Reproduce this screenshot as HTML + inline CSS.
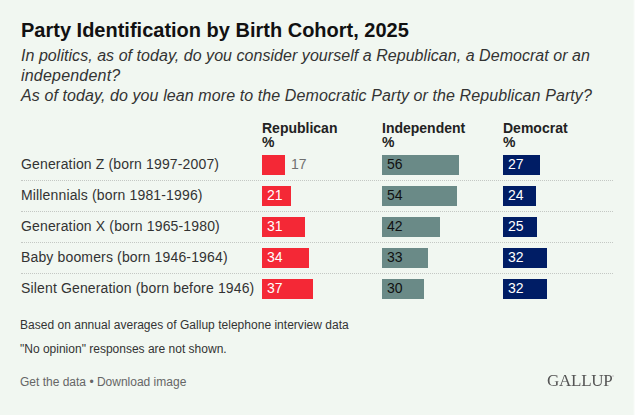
<!DOCTYPE html><html><head><meta charset="utf-8"><style>
html,body{margin:0;padding:0;}
body{width:635px;height:415px;background:#f1f7f1;position:relative;overflow:hidden;font-family:'Liberation Sans', sans-serif;}
.t{position:absolute;white-space:pre;}
.bar{position:absolute;height:20px;}
.dot{position:absolute;left:21px;width:592px;height:0;border-top:1px dotted #c4c8c4;}
</style></head><body>
<div class="t" style="left:21px;top:20px;font-size:20px;line-height:20px;font-family:'Liberation Sans', sans-serif;font-weight:bold;color:#111;transform:scaleY(0.97);transform-origin:0 17px;">Party Identification by Birth Cohort, 2025</div>
<div class="t" style="left:21px;top:47.5px;font-size:16px;line-height:16px;font-family:'Liberation Sans', sans-serif;font-style:italic;color:#333;letter-spacing:0.045px;">In politics, as of today, do you consider yourself a Republican, a Democrat or an</div>
<div class="t" style="left:21px;top:67.5px;font-size:16px;line-height:16px;font-family:'Liberation Sans', sans-serif;font-style:italic;color:#333;letter-spacing:0.2px;">independent?</div>
<div class="t" style="left:21px;top:87.5px;font-size:16px;line-height:16px;font-family:'Liberation Sans', sans-serif;font-style:italic;color:#333;letter-spacing:0.095px;">As of today, do you lean more to the Democratic Party or the Republican Party?</div>
<div class="t" style="left:262px;top:120.5px;font-size:14px;line-height:14px;font-family:'Liberation Sans', sans-serif;font-weight:bold;color:#222;">Republican</div>
<div class="t" style="left:262px;top:134.5px;font-size:14px;line-height:14px;font-family:'Liberation Sans', sans-serif;font-weight:bold;color:#222;">%</div>
<div class="t" style="left:382px;top:120.5px;font-size:14px;line-height:14px;font-family:'Liberation Sans', sans-serif;font-weight:bold;color:#222;">Independent</div>
<div class="t" style="left:382px;top:134.5px;font-size:14px;line-height:14px;font-family:'Liberation Sans', sans-serif;font-weight:bold;color:#222;">%</div>
<div class="t" style="left:503px;top:120.5px;font-size:14px;line-height:14px;font-family:'Liberation Sans', sans-serif;font-weight:bold;color:#222;">Democrat</div>
<div class="t" style="left:503px;top:134.5px;font-size:14px;line-height:14px;font-family:'Liberation Sans', sans-serif;font-weight:bold;color:#222;">%</div>
<div class="t" style="left:21px;top:157px;font-size:14px;line-height:14px;font-family:'Liberation Sans', sans-serif;color:#333;letter-spacing:0.15px;">Generation Z (born 1997-2007)</div>
<div class='bar' style='left:262px;top:155px;width:23px;background:#f42836;'></div>
<div class="t" style="left:291px;top:157px;font-size:14px;line-height:14px;font-family:'Liberation Sans', sans-serif;color:#707070;">17</div>
<div class='bar' style='left:382px;top:155px;width:77px;background:#6a8a87;'></div>
<div class="t" style="left:387px;top:157px;font-size:14px;line-height:14px;font-family:'Liberation Sans', sans-serif;color:#111;">56</div>
<div class='bar' style='left:503px;top:155px;width:37px;background:#001d65;'></div>
<div class="t" style="left:508px;top:157px;font-size:14px;line-height:14px;font-family:'Liberation Sans', sans-serif;color:#fff;">27</div>
<div class='dot' style='top:180px'></div>
<div class="t" style="left:21px;top:188px;font-size:14px;line-height:14px;font-family:'Liberation Sans', sans-serif;color:#333;letter-spacing:0.15px;">Millennials (born 1981-1996)</div>
<div class='bar' style='left:262px;top:186px;width:29px;background:#f42836;'></div>
<div class="t" style="left:267px;top:188px;font-size:14px;line-height:14px;font-family:'Liberation Sans', sans-serif;color:#fff;">21</div>
<div class='bar' style='left:382px;top:186px;width:75px;background:#6a8a87;'></div>
<div class="t" style="left:387px;top:188px;font-size:14px;line-height:14px;font-family:'Liberation Sans', sans-serif;color:#111;">54</div>
<div class='bar' style='left:503px;top:186px;width:33px;background:#001d65;'></div>
<div class="t" style="left:508px;top:188px;font-size:14px;line-height:14px;font-family:'Liberation Sans', sans-serif;color:#fff;">24</div>
<div class='dot' style='top:211px'></div>
<div class="t" style="left:21px;top:219px;font-size:14px;line-height:14px;font-family:'Liberation Sans', sans-serif;color:#333;letter-spacing:0.15px;">Generation X (born 1965-1980)</div>
<div class='bar' style='left:262px;top:217px;width:43px;background:#f42836;'></div>
<div class="t" style="left:267px;top:219px;font-size:14px;line-height:14px;font-family:'Liberation Sans', sans-serif;color:#fff;">31</div>
<div class='bar' style='left:382px;top:217px;width:58px;background:#6a8a87;'></div>
<div class="t" style="left:387px;top:219px;font-size:14px;line-height:14px;font-family:'Liberation Sans', sans-serif;color:#111;">42</div>
<div class='bar' style='left:503px;top:217px;width:34px;background:#001d65;'></div>
<div class="t" style="left:508px;top:219px;font-size:14px;line-height:14px;font-family:'Liberation Sans', sans-serif;color:#fff;">25</div>
<div class='dot' style='top:242px'></div>
<div class="t" style="left:21px;top:250px;font-size:14px;line-height:14px;font-family:'Liberation Sans', sans-serif;color:#333;letter-spacing:0.15px;">Baby boomers (born 1946-1964)</div>
<div class='bar' style='left:262px;top:248px;width:47px;background:#f42836;'></div>
<div class="t" style="left:267px;top:250px;font-size:14px;line-height:14px;font-family:'Liberation Sans', sans-serif;color:#fff;">34</div>
<div class='bar' style='left:382px;top:248px;width:46px;background:#6a8a87;'></div>
<div class="t" style="left:387px;top:250px;font-size:14px;line-height:14px;font-family:'Liberation Sans', sans-serif;color:#111;">33</div>
<div class='bar' style='left:503px;top:248px;width:44px;background:#001d65;'></div>
<div class="t" style="left:508px;top:250px;font-size:14px;line-height:14px;font-family:'Liberation Sans', sans-serif;color:#fff;">32</div>
<div class='dot' style='top:273px'></div>
<div class="t" style="left:21px;top:281px;font-size:14px;line-height:14px;font-family:'Liberation Sans', sans-serif;color:#333;letter-spacing:0.15px;">Silent Generation (born before 1946)</div>
<div class='bar' style='left:262px;top:279px;width:51px;background:#f42836;'></div>
<div class="t" style="left:267px;top:281px;font-size:14px;line-height:14px;font-family:'Liberation Sans', sans-serif;color:#fff;">37</div>
<div class='bar' style='left:382px;top:279px;width:42px;background:#6a8a87;'></div>
<div class="t" style="left:387px;top:281px;font-size:14px;line-height:14px;font-family:'Liberation Sans', sans-serif;color:#111;">30</div>
<div class='bar' style='left:503px;top:279px;width:44px;background:#001d65;'></div>
<div class="t" style="left:508px;top:281px;font-size:14px;line-height:14px;font-family:'Liberation Sans', sans-serif;color:#fff;">32</div>
<div class="t" style="left:20px;top:319px;font-size:12px;line-height:12px;font-family:'Liberation Sans', sans-serif;color:#333;letter-spacing:0.02px;">Based on annual averages of Gallup telephone interview data</div>
<div class="t" style="left:20px;top:342.5px;font-size:12px;line-height:12px;font-family:'Liberation Sans', sans-serif;color:#333;">&quot;No opinion&quot; responses are not shown.</div>
<div class="t" style="left:20px;top:375.5px;font-size:12px;line-height:12px;font-family:'Liberation Sans', sans-serif;color:#666;">Get the data • Download image</div>
<div class="t" style="left:546.5px;top:372px;font-size:17px;line-height:17px;font-family:'Liberation Serif', serif;color:#555;letter-spacing:-0.25px;will-change:transform;">GALLUP</div>
<div style="position:absolute;left:612px;top:375px;width:2px;height:2px;border-radius:1px;background:#d0d0d0;"></div><div style="position:absolute;left:633px;top:0;width:1px;height:415px;background:#f4f9f4;"></div><div style="position:absolute;left:634px;top:0;width:1px;height:415px;background:#fafcfa;"></div>
</body></html>
